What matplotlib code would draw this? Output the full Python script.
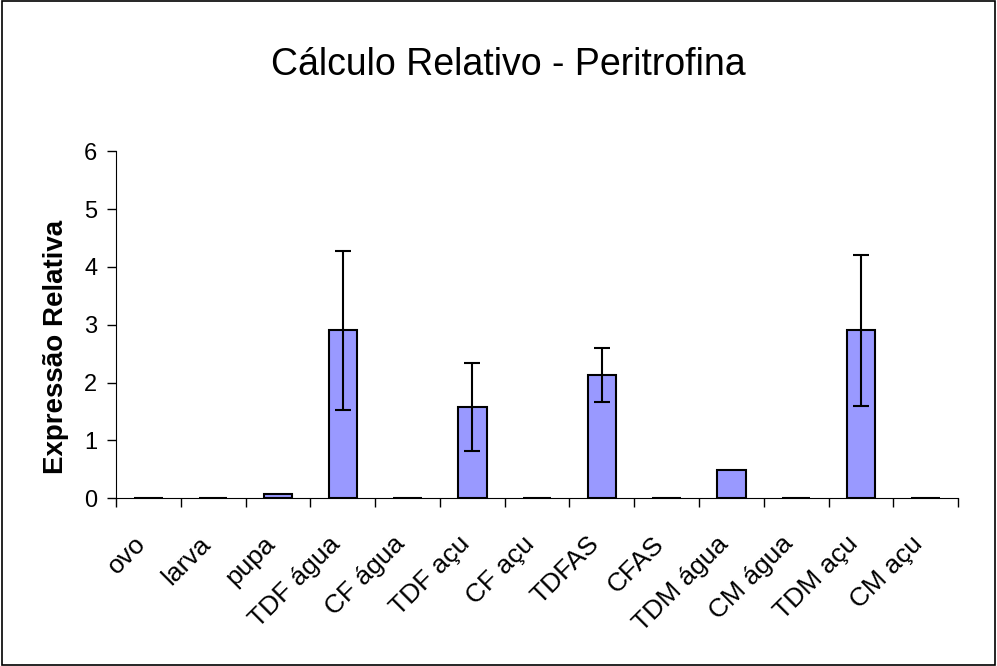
import numpy as np
import matplotlib
matplotlib.use("Agg")
import matplotlib.pyplot as plt
from matplotlib.patches import Rectangle
from matplotlib.transforms import ScaledTranslation

plt.rcParams['font.family'] = ['Liberation Sans', 'DejaVu Sans']

# dados
categorias = ['ovo', 'larva', 'pupa', 'TDF água', 'CF água', 'TDF açu', 'CF açu',
              'TDFAS', 'CFAS', 'TDM água', 'CM água', 'TDM açu', 'CM açu']
valores = [0.0, 0.0, 0.07, 2.90, 0.0, 1.58, 0.0, 2.13, 0.0, 0.49, 0.0, 2.90, 0.0]
erros = [0.0, 0.0, 0.01, 1.38, 0.0, 0.76, 0.0, 0.46, 0.0, 0.01, 0.0, 1.31, 0.0]
yticks = [0, 1, 2, 3, 4, 5, 6]

fig = plt.figure(figsize=(9.97, 6.66), dpi=100)
ax = fig.add_axes([0.1164, 0.252, 0.8446, 0.521])

x = np.arange(len(categorias))
ax.bar(x, valores, width=0.44, color='#9999FF', edgecolor='black', linewidth=1.5, zorder=2)
# barras de erro so onde tem erro visivel
idx = [i for i in range(len(erros)) if erros[i] > 0.02]
ax.errorbar(x[idx], np.array(valores)[idx], yerr=np.array(erros)[idx], fmt='none',
            ecolor='black', elinewidth=1.5, capsize=6, capthick=1.5, zorder=3)

ax.set_xlim(-0.5, len(categorias) - 0.5)
ax.set_ylim(0, 6)
ax.set_yticks(yticks)
ax.tick_params(axis='y', labelsize=17, direction='out', length=6.5, width=1, pad=7)
ax.set_xticks(np.arange(len(categorias) + 1) - 0.5, minor=False)
ax.set_xticklabels([])
ax.set_xticks(x, minor=True)
ax.set_xticklabels(categorias, minor=True, rotation=45, ha='right',
                   rotation_mode='anchor', fontsize=19)
ax.tick_params(axis='x', which='major', direction='out', length=6.5, width=1)
ax.tick_params(axis='x', which='minor', length=0, pad=22)
# desloca os rotulos um pouco pra esquerda
desloc = ScaledTranslation(-0.15, -0.03, fig.dpi_scale_trans)
for lbl in ax.get_xticklabels(minor=True):
    lbl.set_transform(lbl.get_transform() + desloc)

ax.spines['top'].set_visible(False)
ax.spines['right'].set_visible(False)

fig.text(0.056, 0.479, 'Expressão Relativa', rotation=90, ha='center', va='center',
         fontsize=20, fontweight='bold')
fig.text(0.51, 0.902, 'Cálculo Relativo - Peritrofina', ha='center', va='center', fontsize=27)

fig.patches.append(Rectangle((0.002, 0.002), 0.996, 0.996, transform=fig.transFigure,
                             fill=False, edgecolor='black', linewidth=1.2))

fig.savefig('out.png', dpi=100)
